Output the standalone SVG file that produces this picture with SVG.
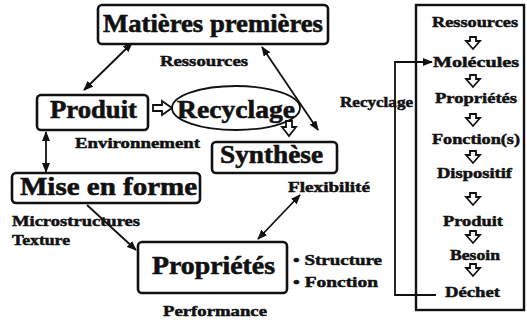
<svg xmlns="http://www.w3.org/2000/svg" width="527" height="323" viewBox="0 0 527 323">
<style>
.box{fill:#fff;stroke:#111;stroke-width:2.6}
.ln{fill:none;stroke:#111;stroke-width:1.8}
.ha{fill:#fff;stroke:#111;stroke-width:1.8;stroke-linejoin:miter}
text{font-family:"Liberation Serif","Times New Roman",serif;font-weight:bold;fill:#111;stroke:#111}
.big{font-size:26px;stroke-width:0.6}
.sm{font-size:15px;stroke-width:0.5}
</style>
<defs>
<marker id="ah" viewBox="0 0 10 8" refX="9" refY="4" markerWidth="10" markerHeight="8" markerUnits="userSpaceOnUse" orient="auto-start-reverse">
<path d="M0,0 L10,4 L0,8 Z" fill="#111"/>
</marker>
</defs>
<rect width="527" height="323" fill="#fff"/>

<g id="connectors">
<line class="ln" x1="132" y1="43" x2="84" y2="90" marker-start="url(#ah)" marker-end="url(#ah)"/>
<line class="ln" x1="262" y1="47" x2="318" y2="130" marker-start="url(#ah)" marker-end="url(#ah)"/>
<line class="ln" x1="46" y1="132" x2="46" y2="172" marker-start="url(#ah)" marker-end="url(#ah)"/>
<line class="ln" x1="87" y1="205" x2="136" y2="250" marker-end="url(#ah)"/>
<line class="ln" x1="300" y1="195" x2="258" y2="239" marker-start="url(#ah)" marker-end="url(#ah)"/>
<path class="ha" d="M153,105 h9 v-4 l10,7 l-10,7 v-4 h-9 z"/>
<polyline class="ln" points="436,295 395,295 395,62 432,62" marker-end="url(#ah)"/>
</g>

<g id="matieres">
<rect class="box" x="98" y="5" width="230" height="39" rx="4"/>
<text class="big" x="103" y="32" textLength="220" lengthAdjust="spacingAndGlyphs">Matières premières</text>
</g>
<text class="sm" x="160" y="66" textLength="88" lengthAdjust="spacingAndGlyphs">Ressources</text>

<g id="produit">
<rect class="box" x="37" y="95" width="111" height="35" rx="4"/>
<text class="big" x="50" y="118" textLength="87" lengthAdjust="spacingAndGlyphs">Produit</text>
</g>
<text class="sm" x="75" y="148" textLength="125" lengthAdjust="spacingAndGlyphs">Environnement</text>

<g id="recyclage">
<ellipse cx="236" cy="108" rx="64" ry="22" fill="#fff" stroke="#111" stroke-width="1.8"/>
<text class="big" x="177" y="118" textLength="118" lengthAdjust="spacingAndGlyphs">Recyclage</text>
</g>
<path class="ha" d="M286,121 h6 v6 h4 l-7,9 l-7,-9 h4 z"/>

<g id="synthese">
<rect class="box" x="212" y="142" width="125" height="31" rx="4"/>
<text class="big" x="220" y="163" textLength="103" lengthAdjust="spacingAndGlyphs">Synthèse</text>
</g>
<text class="sm" x="288" y="192" textLength="82" lengthAdjust="spacingAndGlyphs">Flexibilité</text>

<g id="mise-en-forme">
<rect class="box" x="12" y="173" width="188" height="30" rx="4"/>
<text class="big" x="20" y="195" textLength="177" lengthAdjust="spacingAndGlyphs">Mise en forme</text>
</g>
<text class="sm" x="12" y="226" textLength="128" lengthAdjust="spacingAndGlyphs">Microstructures</text>
<text class="sm" x="12" y="245" textLength="58" lengthAdjust="spacingAndGlyphs">Texture</text>

<g id="proprietes">
<rect class="box" x="138" y="242" width="149" height="51" rx="4"/>
<text class="big" x="152" y="274" font-size="27" textLength="123" lengthAdjust="spacingAndGlyphs">Propriétés</text>
</g>
<text class="sm" x="293" y="265" textLength="89" lengthAdjust="spacingAndGlyphs">• Structure</text>
<text class="sm" x="293" y="287" textLength="85" lengthAdjust="spacingAndGlyphs">• Fonction</text>
<text class="sm" x="163" y="316" textLength="104" lengthAdjust="spacingAndGlyphs">Performance</text>

<text class="sm" x="340" y="107" textLength="73" lengthAdjust="spacingAndGlyphs">Recyclage</text>

<g id="chaine">
<rect x="416" y="5" width="108" height="305" fill="none" stroke="#111" stroke-width="2.4"/>
<text class="sm" x="432" y="27" textLength="86" lengthAdjust="spacingAndGlyphs">Ressources</text>
<text class="sm" x="433" y="67" textLength="86" lengthAdjust="spacingAndGlyphs">Molécules</text>
<text class="sm" x="435" y="103" textLength="82" lengthAdjust="spacingAndGlyphs">Propriétés</text>
<text class="sm" x="432" y="144" textLength="88" lengthAdjust="spacingAndGlyphs">Fonction(s)</text>
<text class="sm" x="437" y="178" textLength="75" lengthAdjust="spacingAndGlyphs">Dispositif</text>
<text class="sm" x="443" y="226" textLength="60" lengthAdjust="spacingAndGlyphs">Produit</text>
<text class="sm" x="450" y="260" textLength="50" lengthAdjust="spacingAndGlyphs">Besoin</text>
<text class="sm" x="445" y="297" textLength="55" lengthAdjust="spacingAndGlyphs">Déchet</text>
<g class="ha">
<path d="M470,37 h6 v4 h4 l-7,8 l-7,-8 h4 z"/>
<path d="M470,75 h6 v4 h4 l-7,8 l-7,-8 h4 z"/>
<path d="M470,114 h6 v4 h4 l-7,8 l-7,-8 h4 z"/>
<path d="M470,151 h6 v4 h4 l-7,8 l-7,-8 h4 z"/>
<path d="M470,193 h6 v4 h4 l-7,8 l-7,-8 h4 z"/>
<path d="M470,231 h6 v4 h4 l-7,8 l-7,-8 h4 z"/>
<path d="M470,264 h6 v4 h4 l-7,8 l-7,-8 h4 z"/>
</g>
</g>
</svg>
